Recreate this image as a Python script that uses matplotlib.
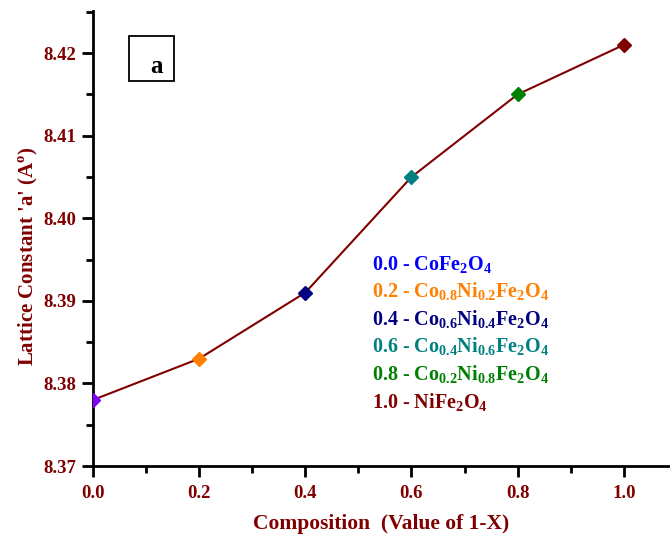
import matplotlib.pyplot as plt
from matplotlib.ticker import MultipleLocator
from matplotlib.patches import Rectangle

plt.rcParams['font.family'] = ['Liberation Serif', 'DejaVu Serif']
plt.rcParams['font.weight'] = 'bold'
plt.rcParams['mathtext.fontset'] = 'custom'
plt.rcParams['mathtext.rm'] = 'Liberation Serif:bold'
plt.rcParams['mathtext.bf'] = 'Liberation Serif:bold'

# composition (1-X) and lattice constant
composition = [0.0, 0.2, 0.4, 0.6, 0.8, 1.0]
lattice = [8.378, 8.383, 8.391, 8.405, 8.415, 8.421]
point_colors = ['#8000ff', '#ff8000', '#000080', '#008080', '#008000', '#800000']
sample_labels = [
    r'0.0 - CoFe$_2$O$_4$',
    r'0.2 - Co$_{0.8}$Ni$_{0.2}$Fe$_2$O$_4$',
    r'0.4 - Co$_{0.6}$Ni$_{0.4}$Fe$_2$O$_4$',
    r'0.6 - Co$_{0.4}$Ni$_{0.6}$Fe$_2$O$_4$',
    r'0.8 - Co$_{0.2}$Ni$_{0.8}$Fe$_2$O$_4$',
    r'1.0 - NiFe$_2$O$_4$',
]
label_colors = ['#0000ff', '#ff8000', '#000080', '#008080', '#008000', '#800000']

dark_red = '#800000'

fig = plt.figure(figsize=(6.7, 5.38), dpi=100)
ax = fig.add_axes([0.1388, 0.1338, 0.8612, 0.8458])

ax.plot(composition, lattice, color=dark_red, lw=1.5, zorder=2)
for x, y, c in zip(composition, lattice, point_colors):
    ax.plot(x, y, marker='D', ms=7, color=c, mec=c, zorder=3)

ax.set_xlim(0, 1.087)
ax.set_ylim(8.37, 8.4251)
ax.xaxis.set_major_locator(MultipleLocator(0.2))
ax.xaxis.set_minor_locator(MultipleLocator(0.1))
ax.yaxis.set_major_locator(MultipleLocator(0.01))
ax.yaxis.set_minor_locator(MultipleLocator(0.005))
ax.xaxis.set_major_formatter(plt.FormatStrFormatter('%.1f'))
ax.yaxis.set_major_formatter(plt.FormatStrFormatter('%.2f'))

for side in ['top', 'right']:
    ax.spines[side].set_visible(False)
for side in ['left', 'bottom']:
    ax.spines[side].set_linewidth(2)

ax.tick_params(which='major', direction='out', length=8, width=2,
               labelsize=13.5, labelcolor=dark_red)
ax.tick_params(which='minor', direction='out', length=5, width=2)
ax.tick_params(axis='x', which='major', pad=6)
ax.tick_params(axis='y', which='major', pad=4)

ax.set_xlabel('Composition  (Value of 1-X)', fontsize=15.5, color=dark_red,
              fontweight='bold', labelpad=8)
ax.set_ylabel(r"Lattice Constant 'a' (A$^{\mathrm{o}}$)", fontsize=15,
              color=dark_red, fontweight='bold')
ax.yaxis.set_label_coords(-0.092, 0.4615)

# composition key
y0 = 8.3937
step = 0.00334
for i, (lab, c) in enumerate(zip(sample_labels, label_colors)):
    ax.text(0.526, y0 - i * step, lab, color=c, fontsize=14.5,
            fontweight='bold', va='baseline', ha='left')

# panel tag
ax.add_patch(Rectangle((0.0678, 8.4166), 0.0847, 0.0055, fill=False,
                       ec='black', lw=1.3, zorder=4))
ax.text(0.12, 8.4184, 'a', fontsize=18, fontweight='bold', ha='center',
        va='center', zorder=5)

fig.savefig('out.png', dpi=100)
